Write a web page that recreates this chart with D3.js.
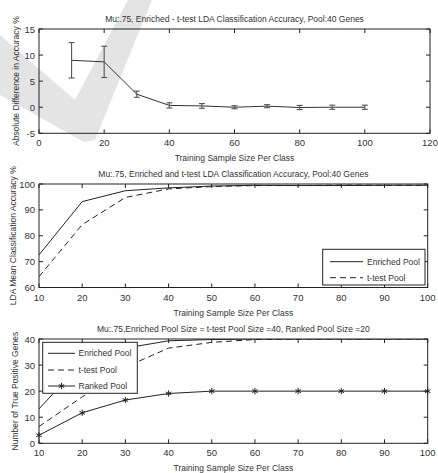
<!DOCTYPE html>
<html>
<head>
<meta charset="utf-8">
<script src="https://cdn.jsdelivr.net/npm/d3@7"></script>
<style>
  body { margin: 0; background: #fff; }
  svg { display: block; font-family: "Liberation Sans", Arial, sans-serif; }
</style>
</head>
<body>
<svg id="chart" width="438" height="473"></svg>
<script>
// --- data ---
const diffX = [10, 20, 30, 40, 50, 60, 70, 80, 90, 100];
const diffMean = [9.0, 8.7, 2.5, 0.35, 0.25, 0.0, 0.2, -0.05, 0.0, 0.0];
const diffErr = [3.4, 3.0, 0.6, 0.5, 0.45, 0.3, 0.3, 0.4, 0.4, 0.4];

const sizeX = [10, 20, 30, 40, 50, 60, 70, 80, 90, 100];
const accEnriched = [72.6, 93.2, 97.4, 98.5, 99.2, 99.5, 99.4, 99.4, 99.5, 99.5];
const accTtest = [64.2, 84.3, 94.8, 98.1, 99.0, 99.4, 99.4, 99.6, 99.5, 99.5];

const tpEnriched = [13.2, 31.0, 36.5, 39.3, 39.8, 40, 40, 40, 40, 40];
const tpTtest = [6.4, 17.8, 29.2, 36.5, 38.7, 39.8, 40, 40, 40, 40];
const tpRanked = [3.1, 11.7, 16.6, 19.1, 20, 20, 20, 20, 20, 20];

const ink = "#333";
const svg = d3.select("#chart");

// light grey check-mark watermark behind the top panel
svg.append("path")
  .attr("d", "M0,35 L75,100 L128,0 L152,0 L95,140 L84,142 L0,95 Z")
  .attr("fill", "#e4e4e4");

// draws a matlab-style boxed axes, returns clip id
function makeAxes(g, x, y, xTicks, yTicks, opt) {
  const [x0, x1] = x.range(), [y0, y1] = y.range();
  const tl = 4;
  const clipId = "clip" + opt.id;
  g.append("clipPath").attr("id", clipId)
    .append("rect").attr("x", x0).attr("y", y1).attr("width", x1 - x0).attr("height", y0 - y1);

  const frame = g.append("g").attr("stroke", "#222").attr("stroke-width", 1);
  frame.append("rect")
    .attr("x", x0).attr("y", y1).attr("width", x1 - x0).attr("height", y0 - y1)
    .attr("fill", "none");
  xTicks.forEach(t => {
    frame.append("line").attr("x1", x(t)).attr("x2", x(t)).attr("y1", y0).attr("y2", y0 - tl);
    frame.append("line").attr("x1", x(t)).attr("x2", x(t)).attr("y1", y1).attr("y2", y1 + tl);
  });
  yTicks.forEach(t => {
    frame.append("line").attr("x1", x0).attr("x2", x0 + tl).attr("y1", y(t)).attr("y2", y(t));
    frame.append("line").attr("x1", x1).attr("x2", x1 - tl).attr("y1", y(t)).attr("y2", y(t));
  });

  g.selectAll(null).data(xTicks).enter().append("text")
    .attr("x", d => x(d)).attr("y", y0 + 13)
    .attr("text-anchor", "middle").attr("font-size", 9.5).attr("fill", ink)
    .text(d => d);
  g.selectAll(null).data(yTicks).enter().append("text")
    .attr("x", x0 - 4).attr("y", d => y(d) + 3.5)
    .attr("text-anchor", "end").attr("font-size", 9.5).attr("fill", ink)
    .text(d => d);

  g.append("text")
    .attr("x", (x0 + x1) / 2).attr("y", y1 - 7)
    .attr("text-anchor", "middle").attr("font-size", 8.5).attr("fill", ink)
    .text(opt.title);
  g.append("text")
    .attr("x", (x0 + x1) / 2).attr("y", y0 + 28)
    .attr("text-anchor", "middle").attr("font-size", 8.5).attr("fill", ink)
    .text(opt.xlabel);
  g.append("text")
    .attr("transform", `translate(${opt.ylx},${(y0 + y1) / 2}) rotate(-90)`)
    .attr("text-anchor", "middle").attr("font-size", 8.5).attr("fill", ink)
    .text(opt.ylabel);
  return clipId;
}

// --- panel 1: difference with error bars ---
{
  const g = svg.append("g");
  const x = d3.scaleLinear().domain([0, 120]).range([39, 430]);
  const y = d3.scaleLinear().domain([-5, 15]).range([133.3, 29]);
  makeAxes(g, x, y, d3.range(0, 121, 20), [-5, 0, 5, 10, 15], {
    id: 1, ylx: 19,
    title: "Mu:.75, Enriched - t-test LDA Classification Accuracy, Pool:40 Genes",
    xlabel: "Training Sample Size Per Class",
    ylabel: "Absolute Difference in Accuracy %"
  });
  const pts = diffX.map((d, i) => ({ x: d, m: diffMean[i], e: diffErr[i] }));
  g.append("path").datum(pts)
    .attr("d", d3.line().x(d => x(d.x)).y(d => y(d.m)))
    .attr("fill", "none").attr("stroke", "#333").attr("stroke-width", 1);
  const eb = g.append("g").attr("stroke", "#555").attr("stroke-width", 1.1);
  pts.forEach(d => {
    const cx = x(d.x), top = y(d.m + d.e), bot = y(d.m - d.e);
    eb.append("line").attr("x1", cx).attr("x2", cx).attr("y1", top).attr("y2", bot);
    eb.append("line").attr("x1", cx - 3).attr("x2", cx + 3).attr("y1", top).attr("y2", top);
    eb.append("line").attr("x1", cx - 3).attr("x2", cx + 3).attr("y1", bot).attr("y2", bot);
  });
}

// --- panel 2: mean accuracy ---
{
  const g = svg.append("g");
  const x = d3.scaleLinear().domain([10, 100]).range([39, 427.7]);
  const y = d3.scaleLinear().domain([60, 100]).range([287.5, 184]);
  const clip = makeAxes(g, x, y, d3.range(10, 101, 10), [60, 70, 80, 90, 100], {
    id: 2, ylx: 16,
    title: "Mu:.75, Enriched and t-test LDA Classification Accuracy, Pool:40 Genes",
    xlabel: "Training Sample Size Per Class",
    ylabel: "LDA Mean Classification Accuracy %"
  });
  const line = d3.line().x(d => x(d[0])).y(d => y(d[1]));
  const lines = g.append("g").attr("clip-path", `url(#${clip})`).attr("fill", "none");
  lines.append("path").attr("d", line(d3.zip(sizeX, accEnriched)))
    .attr("stroke", "#222").attr("stroke-width", 1);
  lines.append("path").attr("d", line(d3.zip(sizeX, accTtest)))
    .attr("stroke", "#222").attr("stroke-width", 1).attr("stroke-dasharray", "6,4");

  const lg = g.append("g");
  lg.append("rect").attr("x", 322.7).attr("y", 249.3).attr("width", 102.3).attr("height", 35.7)
    .attr("fill", "#fff").attr("stroke", "#222");
  [["Enriched Pool", null, 261.7], ["t-test Pool", "6,4", 277.7]].forEach(([lab, dash, ly]) => {
    lg.append("line").attr("x1", 330).attr("x2", 363).attr("y1", ly).attr("y2", ly)
      .attr("stroke", "#222").attr("stroke-dasharray", dash);
    lg.append("text").attr("x", 367).attr("y", ly + 3).attr("font-size", 8.5).attr("fill", ink).text(lab);
  });
}

// --- panel 3: true positive genes ---
{
  const g = svg.append("g");
  const x = d3.scaleLinear().domain([10, 100]).range([39, 427.7]);
  const y = d3.scaleLinear().domain([0, 40]).range([443.3, 339]);
  const clip = makeAxes(g, x, y, d3.range(10, 101, 10), [0, 10, 20, 30, 40], {
    id: 3, ylx: 18,
    title: "Mu:.75,Enriched Pool Size = t-test Pool Size =40, Ranked Pool Size =20",
    xlabel: "Training Sample Size Per Class",
    ylabel: "Number of True Positive Genes"
  });
  const line = d3.line().x(d => x(d[0])).y(d => y(d[1]));
  const lines = g.append("g").attr("clip-path", `url(#${clip})`).attr("fill", "none");
  lines.append("path").attr("d", line(d3.zip(sizeX, tpEnriched)))
    .attr("stroke", "#222").attr("stroke-width", 1);
  lines.append("path").attr("d", line(d3.zip(sizeX, tpTtest)))
    .attr("stroke", "#222").attr("stroke-width", 1).attr("stroke-dasharray", "6,4");
  lines.append("path").attr("d", line(d3.zip(sizeX, tpRanked)))
    .attr("stroke", "#222").attr("stroke-width", 1);
  const star = d3.symbol().type(d3.symbolAsterisk).size(28);
  g.selectAll(null).data(d3.zip(sizeX, tpRanked)).enter().append("path")
    .attr("d", star)
    .attr("transform", d => `translate(${x(d[0])},${y(d[1])})`)
    .attr("fill", "none").attr("stroke", "#222").attr("stroke-width", 1);

  const lg = g.append("g");
  lg.append("rect").attr("x", 42.7).attr("y", 342.3).attr("width", 94.6).attr("height", 51)
    .attr("fill", "#fff").attr("stroke", "#222");
  [["Enriched Pool", null, 353.3, false], ["t-test Pool", "6,4", 370, false], ["Ranked Pool", null, 386, true]]
    .forEach(([lab, dash, ly, mark]) => {
      lg.append("line").attr("x1", 48).attr("x2", 75).attr("y1", ly).attr("y2", ly)
        .attr("stroke", "#222").attr("stroke-dasharray", dash);
      if (mark) lg.append("path").attr("d", star).attr("transform", `translate(61.5,${ly})`)
        .attr("fill", "none").attr("stroke", "#222");
      lg.append("text").attr("x", 78.5).attr("y", ly + 3).attr("font-size", 8.5).attr("fill", ink).text(lab);
    });
}
</script>
</body>
</html>
